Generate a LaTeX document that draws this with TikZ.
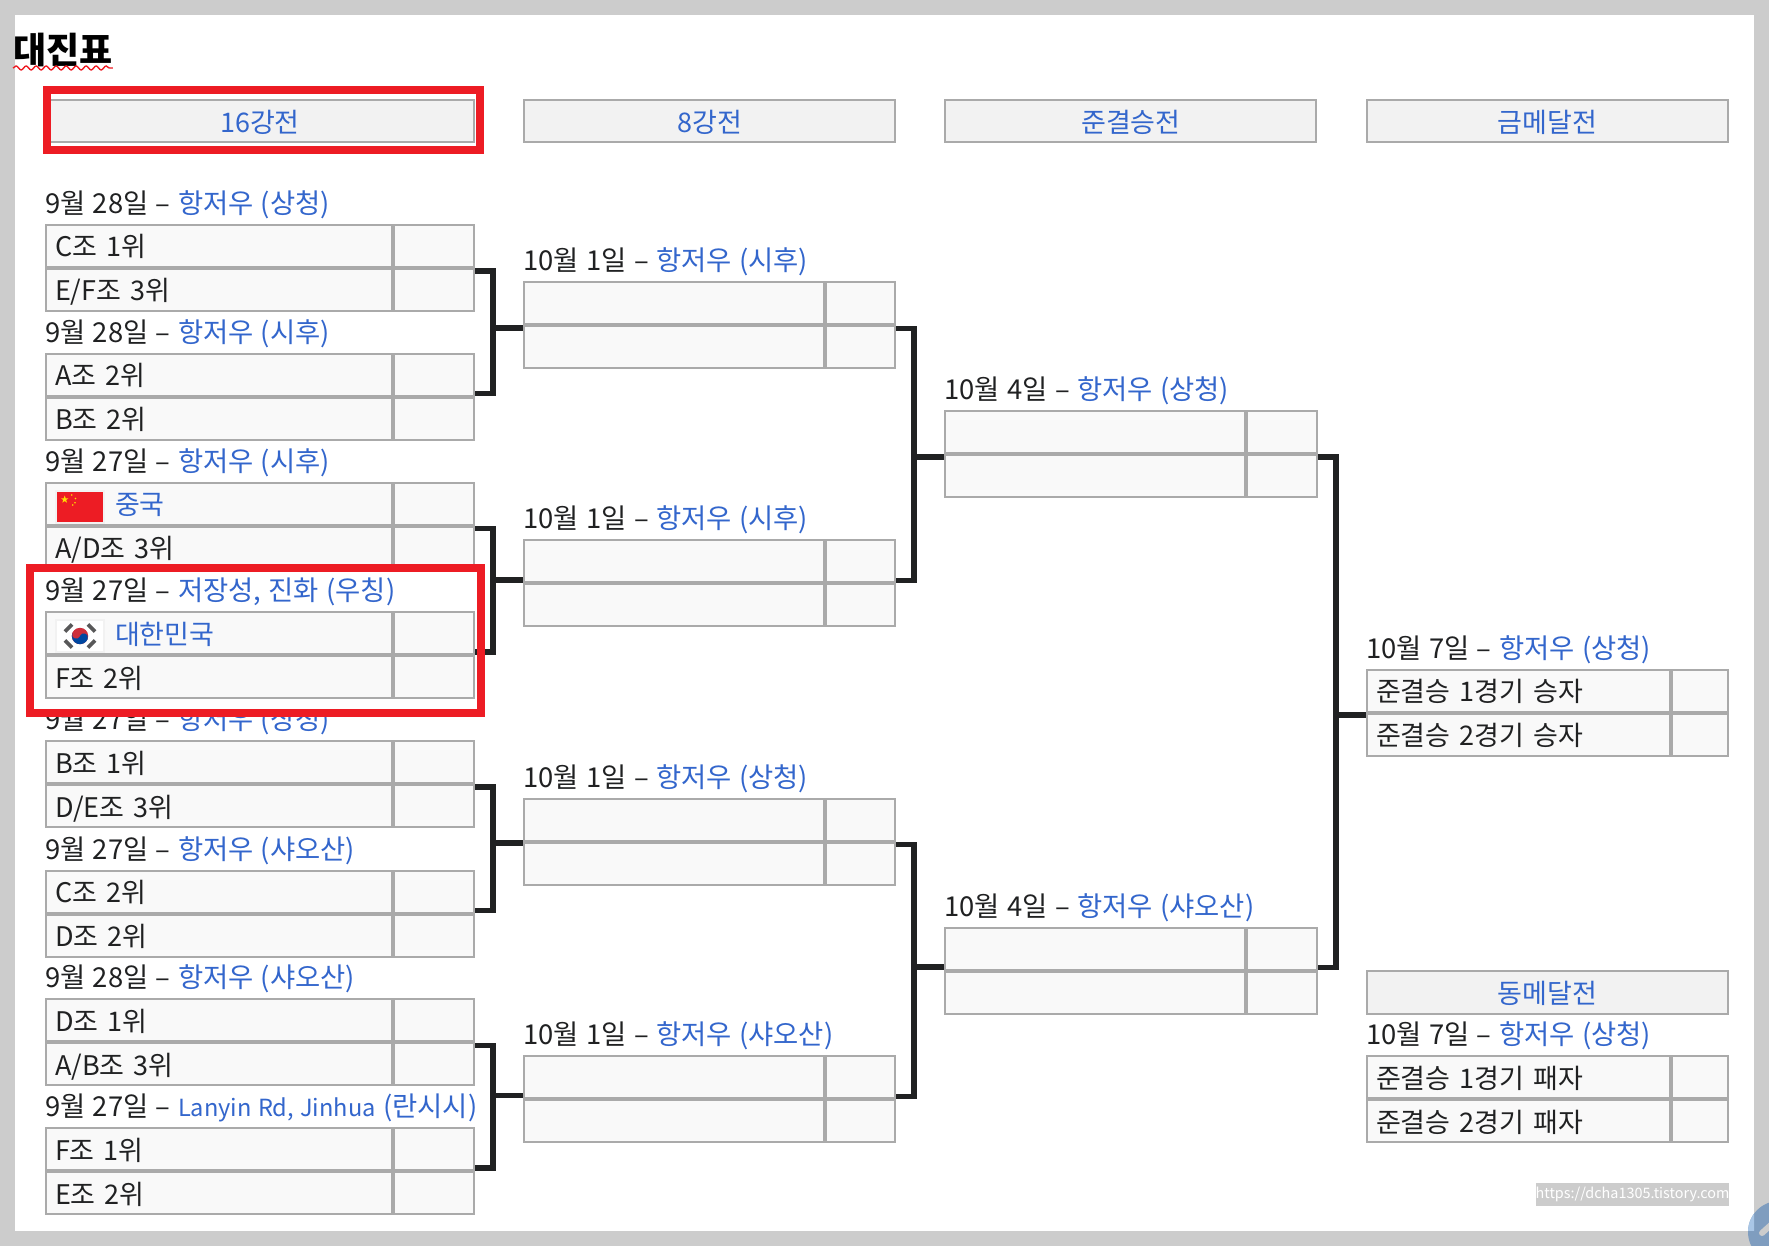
\documentclass[tikz,border=0pt]{standalone}
\usepackage{fontspec}
\setmainfont[WordSpace=1.2]{Noto Sans CJK KR}
\usepackage{xcolor}
\usepackage{tikz}
\usetikzlibrary{positioning, decorations.pathmorphing, shapes.geometric}
\definecolor{pagegray}{HTML}{CCCCCC}
\definecolor{cellgray}{HTML}{AAAAAA}
\definecolor{cellfill}{HTML}{F9F9F9}
\definecolor{headfill}{HTML}{F2F2F2}
\definecolor{linkblue}{HTML}{3366CC}
\definecolor{inkblack}{HTML}{202122}
\definecolor{markred}{HTML}{ED1C24}
\definecolor{flagyellow}{HTML}{FFDE00}
\definecolor{flagred}{HTML}{CD2E3A}
\definecolor{flagblue}{HTML}{0047A0}
\definecolor{buttonblue}{HTML}{7F9DBF}
\definecolor{buttonedge}{HTML}{A9C6E6}

\newcommand{\flagteam}[1]{\hspace*{60pt}\textcolor{linkblue}{#1}}
% id, x, y, text width, score width, top team, bottom team, date, venue
\newcommand{\drawmatch}[9]{
  \node[datelabel] (#1-date) at (#2,#3-10.5) {#8 -- \textcolor{linkblue}{#9}};
  \node[namecell, text width=#4pt] (#1-tn) at (#2+1,#3+1) {#6};
  \node[scorecell, minimum width=#5pt, right=2pt of #1-tn] (#1-ts) {};
  \node[namecell, text width=#4pt, below=2pt of #1-tn] (#1-bn) {#7};
  \node[scorecell, minimum width=#5pt, right=2pt of #1-bn] (#1-bs) {};
}

\begin{document}
\begin{tikzpicture}[
    x=1pt, y=-1pt,
    every node/.style={font=\fontsize{27}{31}\selectfont, text=inkblack},
    datelabel/.style={anchor=base west, inner sep=0pt, font=\fontsize{27.4}{31}\selectfont},
    namecell/.style={draw=cellgray, fill=cellfill, line width=2pt, anchor=north west, outer sep=0pt,
                     inner xsep=9pt, inner ysep=0pt, minimum height=42pt, align=left,
                     text height=28pt, text depth=6pt},
    scorecell/.style={draw=cellgray, fill=cellfill, line width=2pt, outer sep=0pt, inner sep=0pt,
                      minimum height=42pt},
    headcell/.style={draw=cellgray, fill=headfill, line width=2pt, outer sep=0pt, inner sep=0pt,
                     minimum height=42.7pt, text=linkblue, text height=25pt, text depth=2pt},
    bracket/.style={draw=inkblack, line width=5.5pt},
    redbox/.style={draw=markred, line width=8pt, outer sep=0pt, inner sep=0pt},
    maskbox/.style={fill=white, outer sep=0pt, inner sep=0pt},
]
\useasboundingbox (0,0) rectangle (1769,1246);
\fill[pagegray] (0,0) rectangle (1769,1246);
\fill[white] (15,15.5) rectangle (1754,1230.5);

% title
\node[font=\fontsize{36}{40}\selectfont\bfseries, text=black, anchor=base west, inner sep=0pt] (title) at (13,64) {대진표};
\draw[markred, line width=1.4pt, decorate, decoration={snake, amplitude=2pt, segment length=10pt}]
  ([yshift=-4pt]title.base west) -- ([yshift=-4pt]title.base east);

% round headers
\node[headcell, minimum width=428pt] (head16) at (260,120.9) {16강전};
\node[headcell, minimum width=370.5pt] (head8) at (709.6,120.9) {8강전};
\node[headcell, minimum width=371pt] (headsemi) at (1130.9,120.9) {준결승전};
\node[headcell, minimum width=361pt] (headgold) at (1547.5,120.9) {금메달전};
\node[headcell, minimum width=361pt] (headbronze) at (1547.5,992.3) {동메달전};

% round of 16
\drawmatch{r1}{45}{224}{328}{80}{C조 1위}{E/F조 3위}{9월 28일}{항저우 (상청)}
\drawmatch{r2}{45}{352.7}{328}{80}{A조 2위}{B조 2위}{9월 28일}{항저우 (시후)}
\drawmatch{r3}{45}{481.5}{328}{80}{\flagteam{중국}}{A/D조 3위}{9월 27일}{항저우 (시후)}
\drawmatch{r5}{45}{740}{328}{80}{B조 1위}{D/E조 3위}{9월 27일}{항저우 (상청)}
\drawmatch{r6}{45}{869.5}{328}{80}{C조 2위}{D조 2위}{9월 27일}{항저우 (샤오산)}
\drawmatch{r7}{45}{998.3}{328}{80}{D조 1위}{A/B조 3위}{9월 28일}{항저우 (샤오산)}
\drawmatch{r8}{45}{1127}{328}{80}{F조 1위}{E조 2위}{9월 27일}{{\fontsize{23.6}{31}\selectfont Lanyin Rd, Jinhua} (란시시)}

% quarter finals
\drawmatch{q1}{523.3}{281.3}{282}{69}{}{}{10월 1일}{항저우 (시후)}
\drawmatch{q2}{523.3}{539.3}{282}{69}{}{}{10월 1일}{항저우 (시후)}
\drawmatch{q3}{523.3}{797.5}{282}{69}{}{}{10월 1일}{항저우 (상청)}
\drawmatch{q4}{523.3}{1055.3}{282}{69}{}{}{10월 1일}{항저우 (샤오산)}

% semi finals
\drawmatch{s1}{944.3}{410}{282}{69.5}{}{}{10월 4일}{항저우 (상청)}
\drawmatch{s2}{944.3}{926.5}{282}{69.5}{}{}{10월 4일}{항저우 (샤오산)}

% medal matches
\drawmatch{gold}{1366}{668.7}{285}{56}{준결승 1경기 승자}{준결승 2경기 승자}{10월 7일}{항저우 (상청)}
\drawmatch{bronze}{1366}{1055}{285}{56}{준결승 1경기 패자}{준결승 2경기 패자}{10월 7일}{항저우 (상청)}

% pasted part over the round of 16
\node[maskbox, minimum width=451pt, minimum height=144.7pt] (pastearea) at (255.5,640.3) {};
\drawmatch{r4}{45}{611}{328}{80}{\flagteam{대한민국}}{F조 2위}{9월 27일}{저장성, 진화 (우칭)}

% flags
\fill[headfill] (55,490) rectangle (105,524);
\fill[markred] (56.7,492) rectangle (103,522);
\node[star, star points=5, star point ratio=2.6, fill=flagyellow, inner sep=0pt, minimum size=8pt] (cnstar) at (64.7,499.5) {};
\foreach \dotx/\doty in {71.7/495, 75.5/498.5, 75/502.7, 72.7/505}
  \fill[flagyellow] (\dotx,\doty) circle[radius=0.9pt];
\fill[headfill] (55,619) rectangle (105,653);
\fill[white] (57,621) rectangle (103,651);
\foreach \barx/\bary/\barang in {68.5/628/45, 91.5/628/-45, 68.5/644/-45, 91.5/644/45}
  \node[fill=inkblack!75, rotate=\barang, minimum width=10pt, minimum height=3.6pt, inner sep=0pt] at (\barx,\bary) {};
\fill[flagred] (80,636) circle[radius=8.2pt];
\begin{scope}[shift={(80,636)}, rotate=-20]
  \clip (-9pt,0pt) rectangle (9pt,-9pt);
  \fill[flagblue] (0,0) circle[radius=8.2pt];
\end{scope}
\begin{scope}[shift={(80,636)}, rotate=-20]
  \fill[flagred] (-4.1pt,0pt) circle[radius=4.1pt];
  \fill[flagblue] (4.1pt,0pt) circle[radius=4.1pt];
\end{scope}

% brackets
\coordinate (j1) at (493,328);
\coordinate (j2) at (493,580);
\coordinate (j3) at (493,843);
\coordinate (j4) at (493,1095.5);
\coordinate (j5) at (914,457);
\coordinate (j6) at (914,967);
\coordinate (j7) at (1336,715);
\foreach \a/\b/\j/\t in {r1/r2/j1/q1, r3/r4/j2/q2, r5/r6/j3/q3, r7/r8/j4/q4, q1/q2/j5/s1, q3/q4/j6/s2, s1/s2/j7/gold} {
  \draw[bracket] ([xshift=1pt,yshift=-2pt]\a-bs.north east) -| (\j) |- ([xshift=1pt,yshift=2pt]\b-ts.south east);
  \draw[bracket] (\j) -- ([xshift=-1pt]\j -| \t-tn.west);
}

% red marks
\node[redbox, minimum width=433pt, minimum height=60pt] (markhead) at (263.5,120) {};
\node[redbox, minimum width=451pt, minimum height=144.7pt] (markmatch) at (255.5,640.3) {};

% watermark and corner button
\node[fill=pagegray, text=white, font=\fontsize{14.4}{18}\selectfont, inner sep=0pt, minimum width=193pt, minimum height=23pt] (stamp) at (1632.5,1194.5) {https://dcha1305.tistory.com};
\fill[buttonblue] (1779,1232) circle[radius=31pt];
\begin{scope}
  \clip (1700,1190) rectangle (1754,1230.5);
  \fill[buttonedge] (1779,1232) circle[radius=31pt];
\end{scope}
\draw[pagegray, line width=6pt, line cap=round] (1762,1233) -- (1772,1224);
\end{tikzpicture}
\end{document}
